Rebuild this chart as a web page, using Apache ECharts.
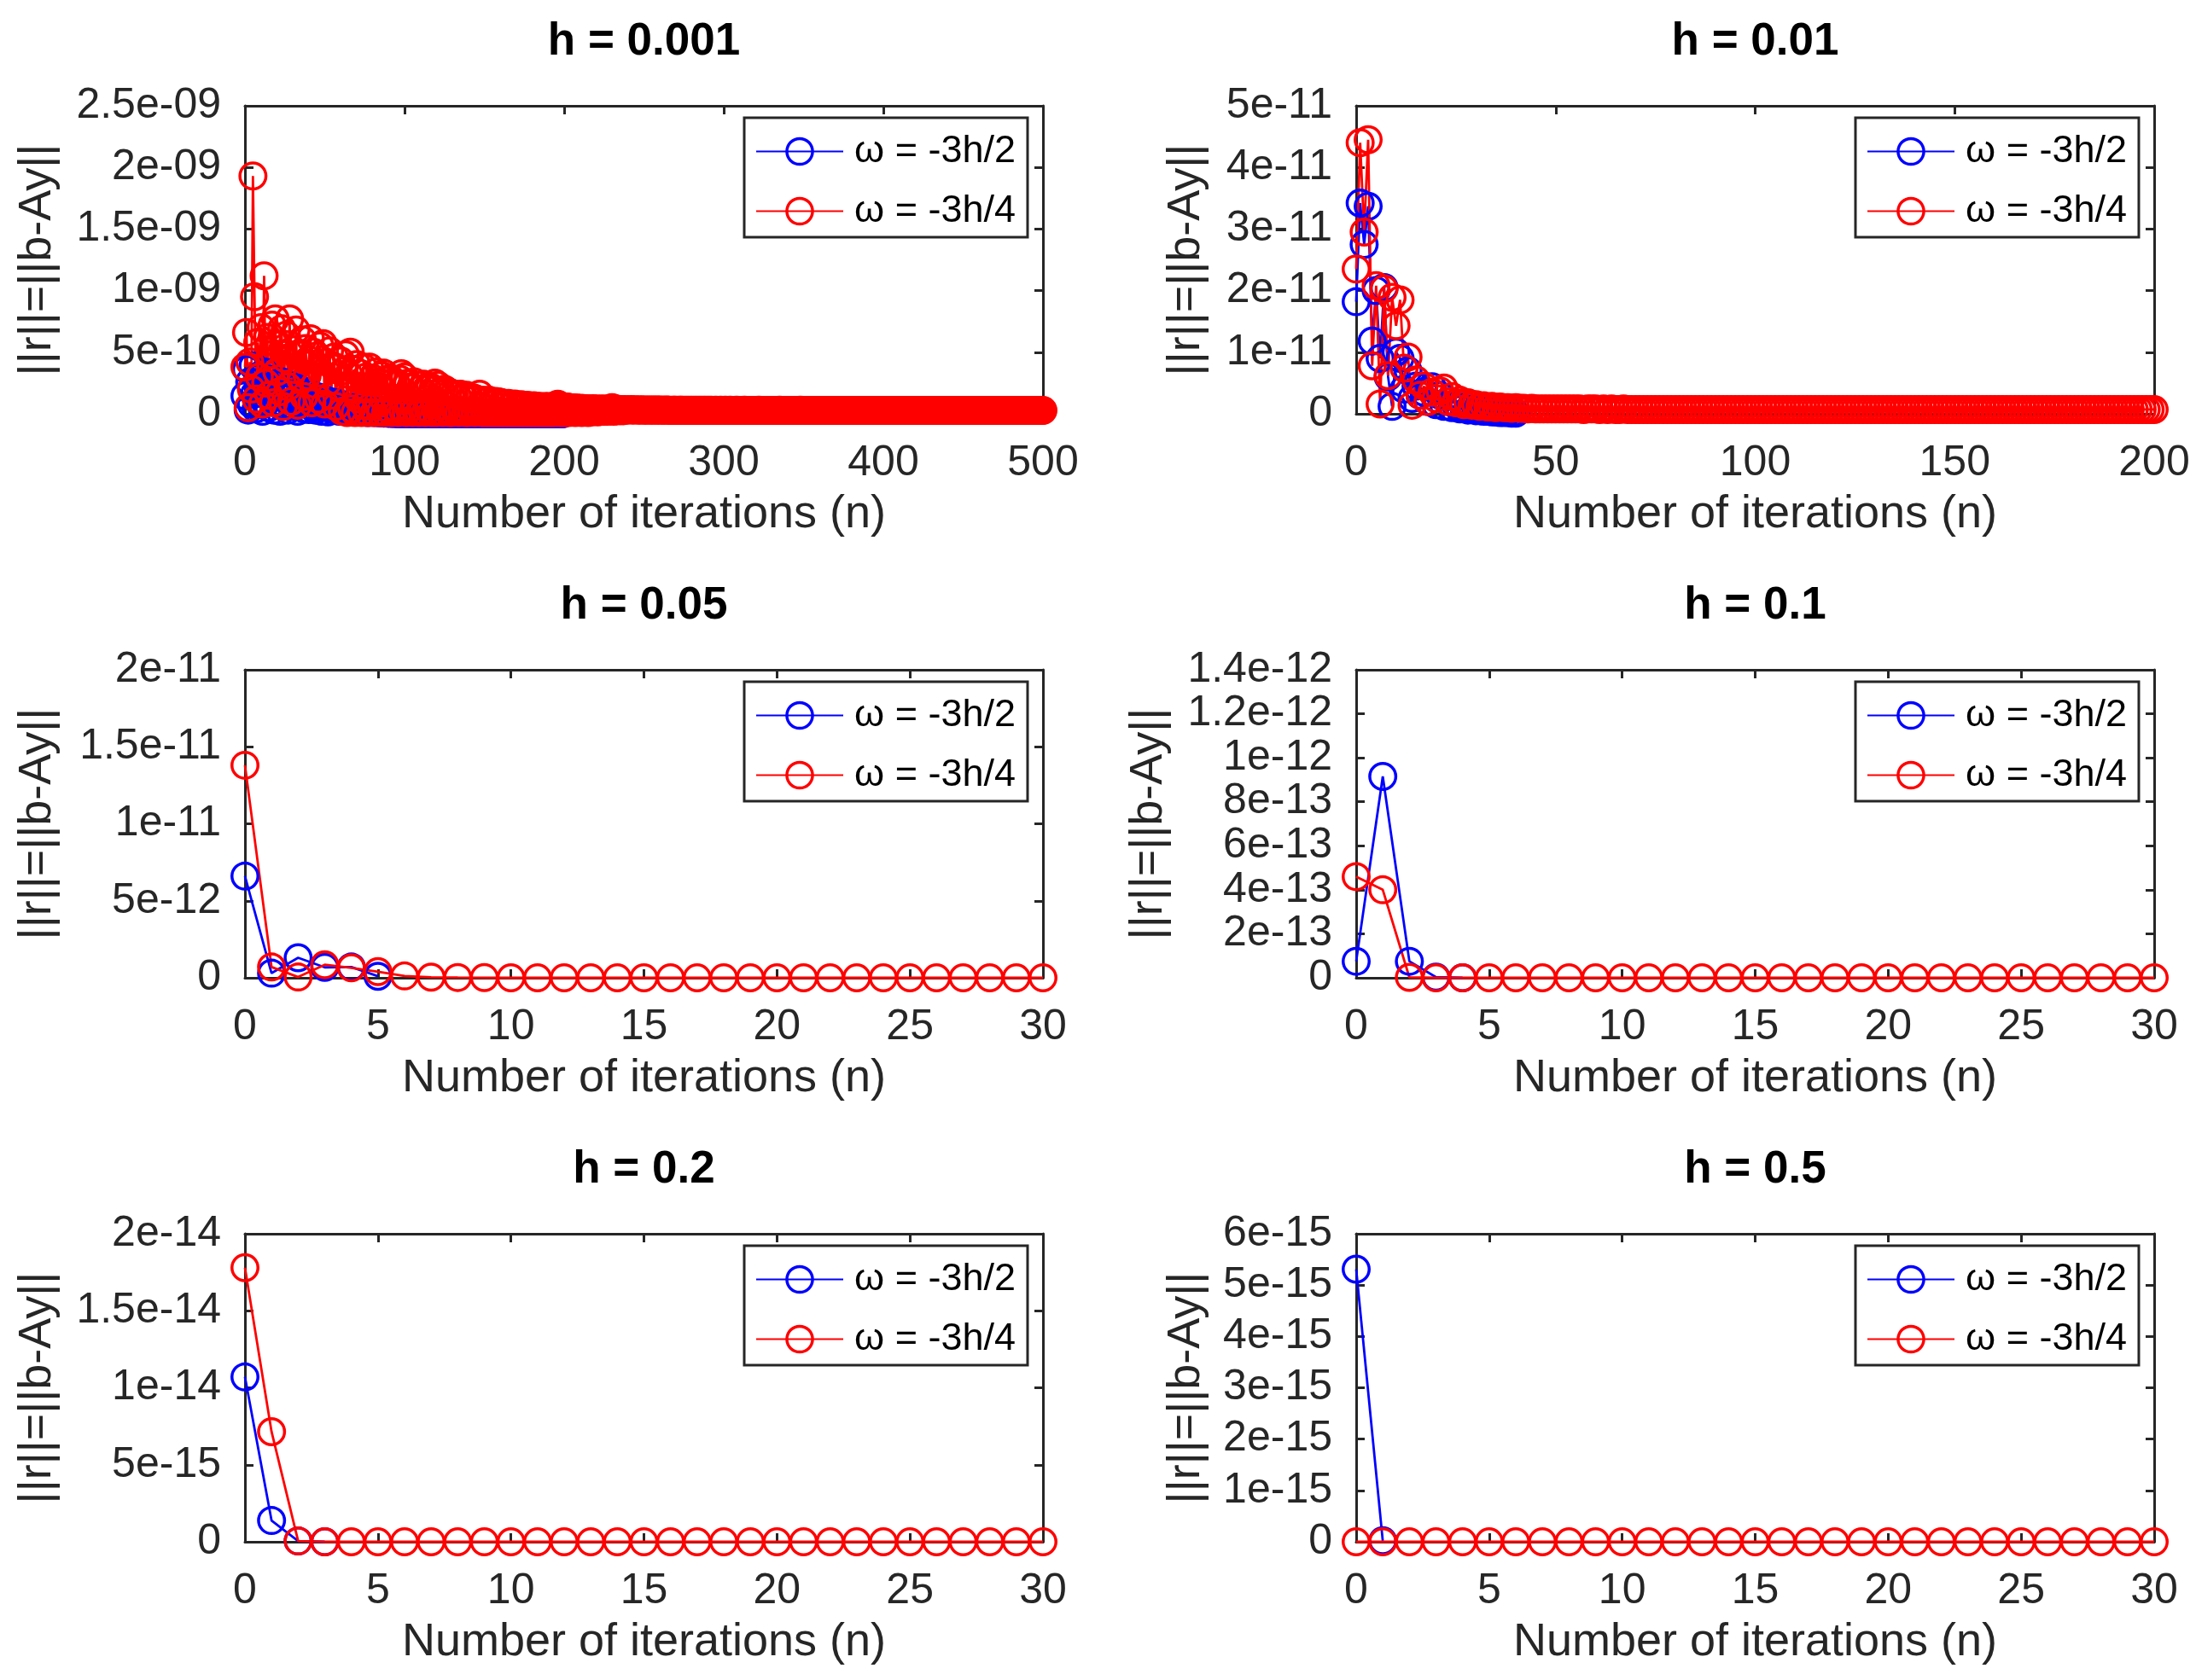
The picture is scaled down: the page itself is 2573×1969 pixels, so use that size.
<!DOCTYPE html>
<html>
<head>
<meta charset="utf-8">
<script src="https://cdn.jsdelivr.net/npm/echarts@6.0.0/dist/echarts.min.js"></script>
<style>
  html, body { margin: 0; padding: 0; background: #fff; }
  #main { width: 2573px; height: 1969px; }
</style>
</head>
<body>
<div id="main"></div>
<script>
// residual norms, one pair of series per step size
// h = 0.001, values in units of 1e-10
var blue001 = [
  1.45, 3.6, 0.3, 2.6, 0.8, 3.9, 1.6, 0.4, 2.9, 1.1,
  2.2, 0.2, 3.4, 0.9, 1.9, 0.5, 2.8, 1.3, 0.3, 2.4,
  1.0, 2.0, 0.2, 2.6, 0.7, 1.7, 1.2, 0.3, 2.3, 0.6,
  1.5, 1.1, 2.1, 0.2, 1.4, 0.8, 1.9, 0.4, 1.2, 1.0,
  0.35, 1.6, 0.6, 1.1, 0.3, 1.4, 0.7, 0.9, 0.2, 1.2,
  0.5, 0.8, 0.15, 1.0, 0.4, 0.7, 0.3, 0.6, 0.9, 0.2,
  0.5, 0.35, 0.6, 0.2, 0.45, 0.3, 0.5, 0.15, 0.4, 0.25,
  0.35, 0.2, 0.3, 0.15, 0.3, 0.2, 0.25, 0.1, 0.2, 0.15,
  0.2, 0.1, 0.15, 0.12, 0.1, 0.08, 0.1, 0.06, 0.08, 0.05,
  0.06, 0.04, 0.05, 0.04, 0.03, 0.03, 0.02, 0.02, 0.02, 0.01,
  0.03, 0.01, 0.02, 0.01, 0.02, 0.01, 0.02, 0.01, 0.01, 0.02,
  0.01, 0.01, 0.02, 0.01, 0.01, 0.01, 0.02, 0.01, 0.01, 0.01,
  0.01, 0.01, 0.01, 0.02, 0.01, 0.01, 0.01, 0.01, 0.01, 0.01,
  0.01, 0.01, 0.01, 0.01, 0.01, 0.01, 0.01, 0.01, 0.01, 0.01,
  0.01, 0.01, 0.0, 0.01, 0.01, 0.0, 0.01, 0.01, 0.0, 0.01,
  0.01, 0.0, 0.01, 0.0, 0.01, 0.0, 0.01, 0.0, 0.01, 0.0,
  0.0, 0.01, 0.0, 0.0, 0.01, 0.0, 0.0, 0.01, 0.0, 0.0,
  0.0, 0.0, 0.01, 0.0, 0.0, 0.0, 0.0, 0.01, 0.0, 0.0,
  0.0, 0.0, 0.0, 0.0, 0.0, 0.0, 0.0, 0.0, 0.0, 0.0,
  0.0, 0.0, 0.0, 0.0, 0.0, 0.0, 0.0, 0.0, 0.0, 0.0
];
var red001 = [
  3.8, 6.6, 0.5, 4.2, 2.0, 19.3, 9.5, 1.2, 5.8, 3.0,
  7.0, 0.8, 11.2, 2.5, 6.2, 1.5, 4.8, 7.2, 0.9, 7.7,
  3.4, 5.6, 1.8, 6.9, 0.6, 4.5, 6.4, 2.2, 7.7, 1.0,
  5.2, 3.6, 6.8, 0.7, 4.9, 2.8, 6.0, 1.4, 5.3, 3.1,
  4.4, 6.1, 0.9, 5.0, 2.4, 4.7, 1.2, 5.5, 3.3, 5.7,
  0.8, 4.2, 2.6, 5.1, 1.5, 3.9, 4.6, 0.6, 3.7, 2.2,
  4.3, 0.2, 3.5, 4.8, 0.1, 3.2, 5.0, 0.4, 3.6, 0.1,
  4.0, 1.2, 3.3, 0.1, 3.8, 0.7, 3.0, 0.1, 3.8, 0.6,
  2.9, 0.1, 3.4, 0.8, 2.6, 0.1, 3.1, 3.3, 0.1, 2.7,
  0.4, 2.9, 0.1, 2.6, 0.5, 2.4, 0.1, 2.8, 3.25, 0.2,
  3.0, 0.1, 2.5, 0.4, 2.2, 0.1, 2.6, 0.3, 2.3, 0.1,
  2.0, 0.2, 2.4, 0.1, 2.1, 0.3, 2.2, 0.1, 1.9, 2.5,
  0.1, 2.3, 0.2, 1.9, 0.1, 2.0, 0.3, 1.8, 0.1, 1.7,
  0.1, 1.6, 0.2, 1.5, 0.1, 1.6, 0.2, 1.4, 0.1, 1.5,
  0.1, 1.25, 0.2, 1.3, 0.1, 1.2, 0.2, 1.6, 0.1, 1.1,
  0.1, 1.0, 0.1, 1.1, 0.1, 0.9, 0.1, 1.0, 0.1, 0.97,
  0.1, 0.9, 0.1, 0.8, 0.1, 0.85, 0.1, 0.75, 0.1, 0.8,
  0.1, 0.7, 0.1, 0.75, 0.1, 0.65, 0.1, 0.7, 0.1, 0.6,
  0.1, 0.65, 0.1, 0.6, 0.1, 0.6, 0.1, 0.55, 0.1, 0.6,
  0.1, 0.55, 0.1, 0.6, 0.1, 0.7, 0.78, 0.1, 0.55, 0.1,
  0.5, 0.1, 0.55, 0.1, 0.5, 0.15, 0.48, 0.1, 0.46, 0.15,
  0.45, 0.1, 0.44, 0.15, 0.42, 0.1, 0.4, 0.15, 0.42, 0.2,
  0.4, 0.15, 0.38, 0.2, 0.4, 0.2, 0.38, 0.2, 0.37, 0.25,
  0.5, 0.2, 0.4, 0.25, 0.36, 0.25, 0.35, 0.25, 0.34, 0.3,
  0.33, 0.31, 0.34, 0.3, 0.33, 0.31, 0.32, 0.3, 0.33, 0.29,
  0.32, 0.3, 0.31, 0.29, 0.32, 0.3, 0.31, 0.29, 0.31, 0.3,
  0.31, 0.29, 0.3, 0.29, 0.31, 0.29, 0.3, 0.28, 0.3, 0.29,
  0.3, 0.28, 0.3, 0.29, 0.3, 0.28, 0.29, 0.28, 0.3, 0.28,
  0.29, 0.28, 0.29, 0.28, 0.29, 0.28, 0.29, 0.28, 0.29, 0.28,
  0.29, 0.28, 0.29, 0.28, 0.28, 0.29, 0.28, 0.28, 0.29, 0.28,
  0.28, 0.29, 0.28, 0.28, 0.29, 0.28, 0.28, 0.28, 0.29, 0.28,
  0.28, 0.28, 0.28, 0.29, 0.28, 0.28, 0.28, 0.28, 0.28, 0.28,
  0.28, 0.28, 0.29, 0.28, 0.28, 0.28, 0.28, 0.28, 0.28, 0.28,
  0.28, 0.28, 0.28, 0.28, 0.28, 0.29, 0.28, 0.28, 0.28, 0.28,
  0.28, 0.28, 0.28, 0.28, 0.28, 0.28, 0.28, 0.28, 0.29, 0.28,
  0.28, 0.28, 0.28, 0.28, 0.28, 0.28, 0.28, 0.28, 0.28, 0.28,
  0.28, 0.28, 0.28, 0.28, 0.28, 0.28, 0.28, 0.27, 0.28, 0.28,
  0.28, 0.28, 0.28, 0.28, 0.28, 0.28, 0.28, 0.28, 0.28, 0.28,
  0.28, 0.28, 0.27, 0.28, 0.28, 0.28, 0.28, 0.28, 0.28, 0.28,
  0.28, 0.28, 0.28, 0.28, 0.28, 0.28, 0.28, 0.28, 0.28, 0.27,
  0.28, 0.28, 0.28, 0.28, 0.28, 0.28, 0.28, 0.28, 0.28, 0.28,
  0.28, 0.28, 0.28, 0.28, 0.27, 0.28, 0.28, 0.28, 0.28, 0.28,
  0.28, 0.28, 0.28, 0.28, 0.28, 0.28, 0.28, 0.28, 0.28, 0.28,
  0.28, 0.27, 0.28, 0.28, 0.28, 0.28, 0.28, 0.28, 0.28, 0.28,
  0.28, 0.28, 0.28, 0.28, 0.28, 0.28, 0.28, 0.28, 0.27, 0.28,
  0.28, 0.28, 0.28, 0.28, 0.28, 0.28, 0.28, 0.28, 0.28, 0.28,
  0.28, 0.28, 0.28, 0.27, 0.28, 0.28, 0.28, 0.28, 0.28, 0.28,
  0.28, 0.28, 0.28, 0.28, 0.28, 0.28, 0.28, 0.28, 0.28, 0.28,
  0.28, 0.28, 0.28, 0.28, 0.28, 0.28, 0.27, 0.28, 0.28, 0.28,
  0.28, 0.28, 0.28, 0.28, 0.28, 0.28, 0.28, 0.28, 0.28, 0.28,
  0.28
];

// h = 0.01, units of 1e-11
var blue010 = [
  1.82, 3.42, 2.75, 3.37, 1.18, 2.0, 0.9, 2.05, 0.6, 0.12,
  1.0, 0.9, 0.4, 0.7, 0.25, 0.45, 0.3, 0.35, 0.2, 0.44,
  0.15, 0.3, 0.12, 0.2, 0.1, 0.15, 0.08, 0.1, 0.06, 0.07,
  0.05, 0.05, 0.04, 0.04, 0.03, 0.03, 0.02, 0.02, 0.02, 0.01,
  0.01
];
var red010 = [
  2.35, 4.4, 2.95, 4.45, 0.78, 2.08, 0.16, 2.03, 0.62, 1.89,
  1.43, 1.85, 0.74, 0.92, 0.14, 0.55, 0.3, 0.45, 0.2, 0.35,
  0.25, 0.37, 0.42, 0.2, 0.28, 0.18, 0.22, 0.15, 0.18, 0.14,
  0.15, 0.12, 0.13, 0.11, 0.12, 0.1, 0.11, 0.1, 0.1, 0.09,
  0.1, 0.09, 0.09, 0.08, 0.09, 0.08, 0.08, 0.08, 0.08, 0.08,
  0.08, 0.08, 0.08, 0.08, 0.08, 0.08, 0.08, 0.07, 0.08, 0.08,
  0.08, 0.07, 0.08, 0.07, 0.08, 0.07, 0.07, 0.08, 0.07, 0.07,
  0.07, 0.07, 0.07, 0.07, 0.07, 0.07, 0.07, 0.07, 0.07, 0.07,
  0.07, 0.07, 0.07, 0.07, 0.07, 0.07, 0.07, 0.07, 0.07, 0.07,
  0.07, 0.07, 0.07, 0.07, 0.07, 0.07, 0.07, 0.07, 0.07, 0.07,
  0.07, 0.07, 0.07, 0.07, 0.07, 0.07, 0.07, 0.07, 0.07, 0.07,
  0.07, 0.07, 0.07, 0.07, 0.07, 0.07, 0.07, 0.07, 0.07, 0.07,
  0.07, 0.07, 0.07, 0.07, 0.07, 0.07, 0.07, 0.07, 0.07, 0.07,
  0.07, 0.07, 0.07, 0.07, 0.07, 0.07, 0.07, 0.07, 0.07, 0.07,
  0.07, 0.07, 0.07, 0.07, 0.07, 0.07, 0.07, 0.07, 0.07, 0.07,
  0.07, 0.07, 0.07, 0.07, 0.07, 0.07, 0.07, 0.07, 0.07, 0.07,
  0.07, 0.07, 0.07, 0.07, 0.07, 0.07, 0.07, 0.07, 0.07, 0.07,
  0.07, 0.07, 0.07, 0.07, 0.07, 0.07, 0.07, 0.07, 0.07, 0.07,
  0.07, 0.07, 0.07, 0.07, 0.07, 0.07, 0.07, 0.07, 0.07, 0.07,
  0.07, 0.07, 0.07, 0.07, 0.07, 0.07, 0.07, 0.07, 0.07, 0.07,
  0.07
];

// h = 0.05, units of 1e-12
var blue050 = [6.6, 0.3, 1.3, 0.68, 0.7, 0.1];
var red050 = [
  13.8, 0.7, 0.05, 0.85, 0.65, 0.4, 0.12, 0.04, 0.02, 0.01,
  0, 0, 0, 0, 0, 0, 0, 0, 0, 0,
  0, 0, 0, 0, 0, 0, 0, 0, 0, 0,
  0
];

// h = 0.1, units of 1e-13
var blue100 = [0.75, 9.15, 0.75, 0.03, 0.0];
var red100 = [
  4.6, 4.0, 0.02, 0, 0, 0, 0, 0, 0, 0,
  0, 0, 0, 0, 0, 0, 0, 0, 0, 0,
  0, 0, 0, 0, 0, 0, 0, 0, 0, 0,
  0
];

// h = 0.2, units of 1e-15
var blue200 = [10.7, 1.38, 0.05, 0.0];
var red200 = [
  17.8, 7.15, 0.05, 0, 0, 0, 0, 0, 0, 0,
  0, 0, 0, 0, 0, 0, 0, 0, 0, 0,
  0, 0, 0, 0, 0, 0, 0, 0, 0, 0,
  0
];

// h = 0.5, units of 1e-15
var blue500 = [5.31, 0.02];
var red500 = [
  0, 0, 0, 0, 0, 0, 0, 0, 0, 0,
  0, 0, 0, 0, 0, 0, 0, 0, 0, 0,
  0, 0, 0, 0, 0, 0, 0, 0, 0, 0,
  0
];

// tick labels of the y axes (same order as the ticks from 0 up)
var yTicks001 = ['0', '5e-10', '1e-09', '1.5e-09', '2e-09', '2.5e-09'];
var yTicks010 = ['0', '1e-11', '2e-11', '3e-11', '4e-11', '5e-11'];
var yTicks050 = ['0', '5e-12', '1e-11', '1.5e-11', '2e-11'];
var yTicks100 = ['0', '2e-13', '4e-13', '6e-13', '8e-13', '1e-12', '1.2e-12', '1.4e-12'];
var yTicks200 = ['0', '5e-15', '1e-14', '1.5e-14', '2e-14'];
var yTicks500 = ['0', '1e-15', '2e-15', '3e-15', '4e-15', '5e-15', '6e-15'];

var titles = ['h = 0.001', 'h = 0.01', 'h = 0.05', 'h = 0.1', 'h = 0.2', 'h = 0.5'];
var nameBlue = 'ω = -3h/2';
var nameRed = 'ω = -3h/4';

var panels = [
  { blue: blue001, red: red001, xMax: 500, xStep: 100, yStep: 5, yTicks: yTicks001 },
  { blue: blue010, red: red010, xMax: 200, xStep: 50, yStep: 1, yTicks: yTicks010 },
  { blue: blue050, red: red050, xMax: 30, xStep: 5, yStep: 5, yTicks: yTicks050 },
  { blue: blue100, red: red100, xMax: 30, xStep: 5, yStep: 2, yTicks: yTicks100 },
  { blue: blue200, red: red200, xMax: 30, xStep: 5, yStep: 5, yTicks: yTicks200 },
  { blue: blue500, red: red500, xMax: 30, xStep: 5, yStep: 1, yTicks: yTicks500 }
];

// layout
var colLeft = [287, 1589];
var rowTop = [124, 785, 1446];
var gridW = 935, gridH = 361;
var yNameGap = [216, 172, 216, 216, 216, 172];

var FONT = '"Liberation Sans", Arial, Helvetica, sans-serif';
var AX = '#262626';
var BLUE = '#0000ff', RED = '#ff0000';
// hollow circle marker (ring), so the lines stay visible inside like the original
var RING = 'path://M17,0 A17,17 0 1,1 17,34 A17,17 0 1,1 17,0 Z M17,3.5 A13.5,13.5 0 1,0 17,30.5 A13.5,13.5 0 1,0 17,3.5 Z';

var dom = document.getElementById('main');
var myChart = echarts.init(dom, null, { renderer: 'canvas' });

var grid = [], xAxis = [], yAxis = [], series = [], title = [], legend = [];
var n = panels.length;

function toPoints(arr) {
  return arr.map(function (v, k) { return [k, v]; });
}

function lineSeries(name, color, arr, i) {
  return {
    type: 'line',
    name: name,
    xAxisIndex: i,
    yAxisIndex: i,
    data: toPoints(arr),
    symbol: RING,
    symbolSize: 34,
    showAllSymbol: true,
    clip: false,
    color: color,
    lineStyle: { color: color, width: 2.8 },
    itemStyle: { color: color, borderWidth: 0 },
    emphasis: { disabled: true },
    animation: false
  };
}

panels.forEach(function (p, i) {
  var left = colLeft[i % 2];
  var top = rowTop[Math.floor(i / 2)];
  var yMax = p.yStep * (p.yTicks.length - 1);

  grid.push({ left: left, top: top, width: gridW, height: gridH, outerBoundsMode: 'none' });

  title.push({
    text: titles[i],
    left: left + gridW / 2,
    top: top - 101,
    textAlign: 'center',
    padding: 0,
    textStyle: { fontFamily: FONT, fontSize: 53, fontWeight: 'bold', color: '#000' }
  });

  legend.push({
    orient: 'vertical',
    left: left + 585,
    top: top + 14,
    itemWidth: 102,
    itemHeight: 42,
    itemGap: 25,
    padding: [17, 14, 8, 13],
    borderColor: AX,
    borderWidth: 3,
    borderRadius: 0,
    backgroundColor: '#fff',
    selectedMode: false,
    itemStyle: { borderWidth: 0 },
    textStyle: { fontFamily: FONT, fontSize: 45, color: '#000', padding: [0, 0, 0, 8] },
    data: [nameBlue, nameRed]
  });

  var lineCfg = { show: true, onZero: false, lineStyle: { color: AX, width: 3 } };
  var tickCfg = { show: true, inside: true, length: 10, lineStyle: { color: AX, width: 3 } };

  xAxis[i] = {
    type: 'value', gridIndex: i, position: 'bottom',
    min: 0, max: p.xMax, interval: p.xStep,
    name: 'Number of iterations (n)', nameLocation: 'middle', nameGap: 91,
    nameTextStyle: { fontFamily: FONT, fontSize: 54, color: AX },
    axisLine: lineCfg, axisTick: tickCfg,
    axisLabel: { margin: 33, fontFamily: FONT, fontSize: 50, color: AX },
    splitLine: { show: false }
  };
  xAxis[n + i] = {
    type: 'value', gridIndex: i, position: 'top',
    min: 0, max: p.xMax, interval: p.xStep,
    axisLine: lineCfg, axisTick: tickCfg,
    axisLabel: { show: false }, splitLine: { show: false }
  };

  var ticks = p.yTicks, step = p.yStep;
  yAxis[i] = {
    type: 'value', gridIndex: i, position: 'left',
    min: 0, max: yMax, interval: step,
    name: '||r||=||b-Ay||', nameLocation: 'middle', nameGap: yNameGap[i],
    nameTextStyle: { fontFamily: FONT, fontSize: 54, color: AX },
    axisLine: lineCfg, axisTick: tickCfg,
    axisLabel: {
      margin: 28, fontFamily: FONT, fontSize: 50, color: AX,
      formatter: function (v) { return ticks[Math.round(v / step)]; }
    },
    splitLine: { show: false }
  };
  yAxis[n + i] = {
    type: 'value', gridIndex: i, position: 'right',
    min: 0, max: yMax, interval: step,
    axisLine: lineCfg, axisTick: tickCfg,
    axisLabel: { show: false }, splitLine: { show: false }
  };

  series.push(lineSeries(nameBlue, BLUE, p.blue, i));
  series.push(lineSeries(nameRed, RED, p.red, i));
});

var option = {
  backgroundColor: '#fff',
  animation: false,
  title: title,
  legend: legend,
  grid: grid,
  xAxis: xAxis,
  yAxis: yAxis,
  series: series
};

if (option && typeof option === 'object') {
  myChart.setOption(option);
}

window.addEventListener('resize', myChart.resize);
</script>
</body>
</html>
